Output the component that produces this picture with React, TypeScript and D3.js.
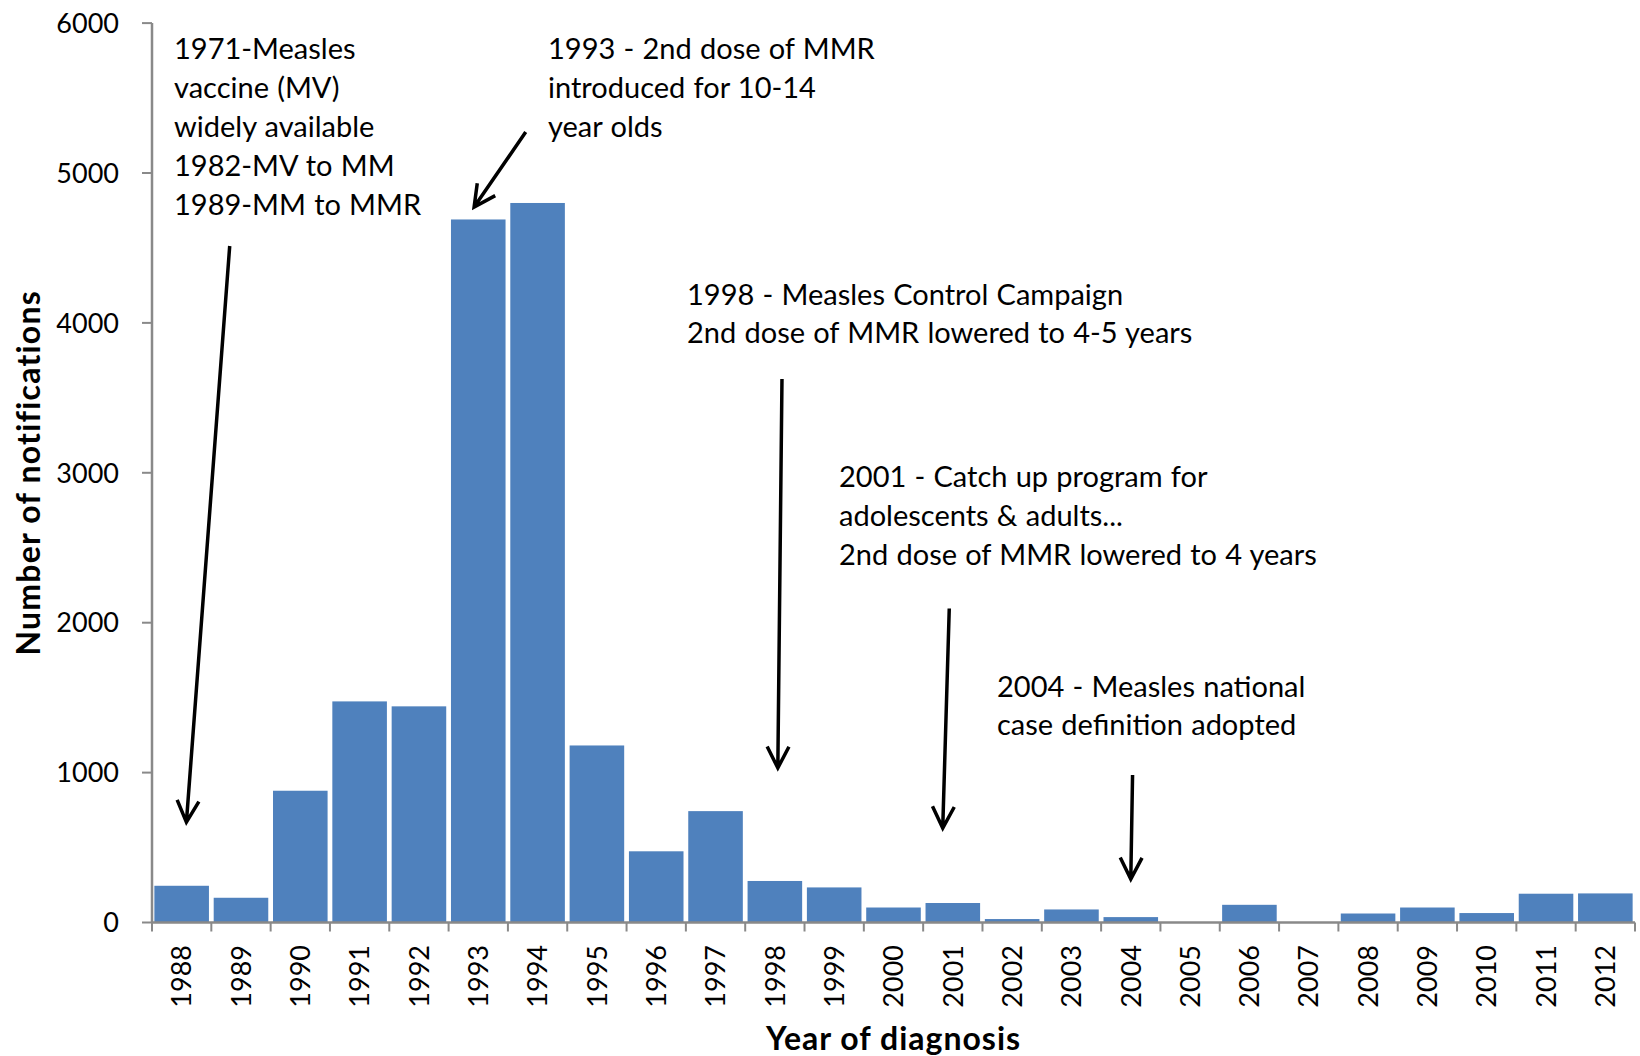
import React from "react";
import * as d3 from "d3";

const years = ["1988","1989","1990","1991","1992","1993","1994","1995","1996","1997","1998","1999","2000","2001","2002","2003","2004","2005","2006","2007","2008","2009","2010","2011","2012"];
const notifications = [245, 165, 879, 1475, 1442, 4690, 4800, 1181, 475, 743, 277, 234, 100, 130, 23, 87, 36, 0, 118, 0, 60, 100, 63, 192, 194];
const yTicks = [0, 1000, 2000, 3000, 4000, 5000, 6000];

const noteTexts = [
  ["1971-Measles", "vaccine (MV)", "widely available", "1982-MV to MM", "1989-MM to MMR"],
  ["1993 - 2nd dose of MMR", "introduced for 10-14", "year olds"],
  ["1998 - Measles Control Campaign", "2nd dose of MMR lowered to 4-5 years"],
  ["2001 - Catch up program for", "adolescents & adults...", "2nd dose of MMR lowered to 4 years"],
  ["2004 - Measles national", "case definition adopted"],
];
// arrows in data space: [yearFrom, valueFrom, yearTo, valueTo]
const noteArrows = [
  [1988.81, 4513, 1988.08, 670],
  [1993.80, 5273, 1992.93, 4773],
  [1998.12, 3626, 1998.05, 1031],
  [2000.94, 2095, 2000.83, 630],
  [2004.03, 984, 2004.0, 290],
];

const W = 1640, H = 1056;
const left = 152, right = 1635, top = 23.1, bottom = 922.5;
const noteLayout = [
  { x: 174, y: 59, lh: 39 },
  { x: 548, y: 59, lh: 39 },
  { x: 687, y: 305, lh: 38 },
  { x: 839, y: 487, lh: 39 },
  { x: 997, y: 697, lh: 38 },
];
const FONT = "Lato, 'Open Sans', sans-serif";

function arrowPath(x1: number, y1: number, x2: number, y2: number) {
  const ang = Math.atan2(y2 - y1, x2 - x1);
  const L = 24, a = (27 * Math.PI) / 180;
  const w1x = x2 - L * Math.cos(ang - a), w1y = y2 - L * Math.sin(ang - a);
  const w2x = x2 - L * Math.cos(ang + a), w2y = y2 - L * Math.sin(ang + a);
  return `M${x1},${y1}L${x2},${y2}M${w1x},${w1y}L${x2},${y2}L${w2x},${w2y}`;
}

export default function App() {
  const x = d3.scaleBand<string>().domain(years).range([left, right]).paddingInner(0.08).paddingOuter(0.04);
  const xl = d3.scaleLinear().domain([1987.5, 2012.5]).range([left, right]);
  const y = d3.scaleLinear().domain([0, 6000]).range([bottom, top]);
  const step = (right - left) / years.length;
  const axisColor = "#898989";

  return (
    <svg width={W} height={H} style={{ position: "fixed", left: 0, top: 0, background: "#fff" }} fontFamily={FONT}>
      <rect x={0} y={0} width={W} height={H} fill="#fff" />
      {/* bars */}
      {years.map((yr, i) => (
        <rect key={yr} x={x(yr)} y={y(notifications[i])} width={x.bandwidth()} height={bottom - y(notifications[i])} fill="#4F81BD" />
      ))}
      {/* y axis */}
      <line x1={left} x2={left} y1={y(6000)} y2={bottom} stroke={axisColor} strokeWidth={2.5} />
      {yTicks.map((t) => (
        <g key={t}>
          <line x1={left - 10} x2={left} y1={y(t)} y2={y(t)} stroke={axisColor} strokeWidth={2} />
          <text x={119} y={y(t)} dy="0.36em" textAnchor="end" fontSize={27} fill="#000">{t}</text>
        </g>
      ))}
      {/* x axis */}
      <line x1={left} x2={right} y1={bottom} y2={bottom} stroke={axisColor} strokeWidth={2.5} />
      {d3.range(years.length + 1).map((k) => (
        <line key={k} x1={left + k * step} x2={left + k * step} y1={bottom} y2={bottom + 9} stroke={axisColor} strokeWidth={2} />
      ))}
      {years.map((yr) => {
        const cx = (x(yr) as number) + x.bandwidth() / 2;
        return (
          <text key={yr} transform={`translate(${cx},945) rotate(-90)`} dy="0.36em" textAnchor="end" fontSize={27} fill="#000">{yr}</text>
        );
      })}
      {/* axis titles */}
      <text x={(left + right) / 2} y={1050} textAnchor="middle" fontSize={32} letterSpacing={1} fontWeight="bold" fill="#000">Year of diagnosis</text>
      <text transform={`translate(40,${(top + bottom) / 2}) rotate(-90)`} textAnchor="middle" fontSize={32} letterSpacing={1.2} fontWeight="bold" fill="#000">Number of notifications</text>
      {/* annotations */}
      {noteTexts.map((lines, i) => (
        <text key={i} x={noteLayout[i].x} y={noteLayout[i].y} fontSize={29} wordSpacing={0.8} fill="#000">
          {lines.map((ln, j) => (
            <tspan key={j} x={noteLayout[i].x} y={noteLayout[i].y + j * noteLayout[i].lh}>{ln}</tspan>
          ))}
        </text>
      ))}
      {noteArrows.map((a, i) => (
        <path key={i} d={arrowPath(xl(a[0]), y(a[1]), xl(a[2]), y(a[3]))} fill="none" stroke="#000" strokeWidth={3.5} strokeLinejoin="miter" />
      ))}
    </svg>
  );
}
